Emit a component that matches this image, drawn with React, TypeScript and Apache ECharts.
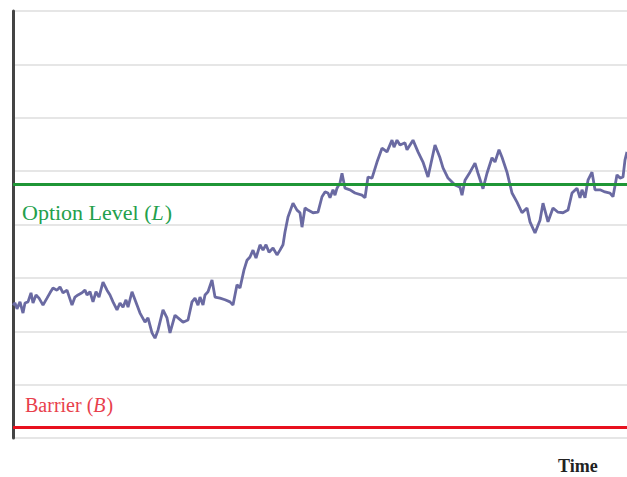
import React, { useEffect, useRef } from "react";
import * as echarts from "echarts";

// time steps (arbitrary units along the horizontal axis)
const timeSteps = [
  0, 2, 4, 7, 10, 12, 15, 18, 20, 23, 26, 30, 34, 37, 40, 44, 47, 50, 54, 59,
  62, 65, 69, 72, 74, 77, 80, 83, 86, 90, 94, 97, 100, 104, 107, 110, 113, 115, 119, 122,
  127, 132, 135, 139, 142, 145, 150, 154, 157, 162, 165, 170, 175, 179, 182, 185, 187, 190, 192, 195,
  199, 202, 207, 212, 217, 220, 224, 227, 231, 234, 237, 240, 243, 247, 250, 253, 256, 260, 264, 267,
  270, 272, 275, 280, 284, 287, 289, 292, 295, 300, 305, 309, 312, 315, 317, 320, 322, 324, 327, 329,
  332, 337, 342, 349, 352, 355, 359, 364, 369, 374, 379, 381, 384, 387, 392, 394, 397, 400, 405, 410,
  415, 422, 427, 430, 435, 442, 447, 449, 452, 457, 462, 465, 470, 474, 479, 482, 486, 489, 494, 499,
  504, 509, 514, 517, 522, 527, 530, 535, 540, 545, 550, 555, 559, 564, 567, 569, 572, 575, 579, 582,
  587, 592, 597, 600, 604, 607, 610, 612, 614,
];

// asset price path
const priceValues = [
  2.49, 2.53, 2.42, 2.55, 2.34, 2.53, 2.55, 2.72, 2.53, 2.68, 2.62, 2.49, 2.62, 2.72, 2.81, 2.77, 2.83, 2.72, 2.77, 2.49,
  2.64, 2.68, 2.72, 2.77, 2.68, 2.74, 2.55, 2.74, 2.64, 2.92, 2.77, 2.68, 2.55, 2.40, 2.53, 2.45, 2.59, 2.45, 2.74, 2.59,
  2.34, 2.17, 2.25, 1.97, 1.87, 2.02, 2.40, 2.25, 1.97, 2.30, 2.25, 2.17, 2.21, 2.55, 2.62, 2.49, 2.64, 2.49, 2.68, 2.74,
  2.96, 2.64, 2.62, 2.59, 2.55, 2.49, 2.87, 2.81, 3.15, 3.33, 3.39, 3.52, 3.37, 3.62, 3.52, 3.62, 3.48, 3.56, 3.43, 3.52,
  3.62, 3.86, 4.14, 4.40, 4.27, 4.22, 3.95, 4.31, 4.27, 4.22, 4.23, 4.52, 4.61, 4.59, 4.50, 4.65, 4.55, 4.68, 4.78, 4.96,
  4.68, 4.65, 4.59, 4.55, 4.50, 4.89, 4.87, 5.17, 5.43, 5.36, 5.58, 5.45, 5.58, 5.49, 5.53, 5.40, 5.49, 5.58, 5.36, 5.17,
  4.89, 5.49, 5.25, 5.06, 4.87, 4.74, 4.70, 4.55, 4.83, 4.98, 5.15, 4.96, 4.67, 4.96, 5.25, 5.17, 5.40, 5.26, 4.98, 4.59,
  4.42, 4.22, 4.31, 4.05, 3.84, 4.08, 4.40, 4.05, 4.31, 4.23, 4.22, 4.27, 4.59, 4.68, 4.50, 4.65, 4.50, 4.83, 4.98, 4.65,
  4.65, 4.61, 4.59, 4.52, 4.93, 4.87, 4.89, 5.21, 5.36,
];

const optionLevel = 4.76;
const barrierLevel = 0.2;

const labelOption = "Option Level (";
const labelOptionSym = "L";
const labelBarrier = "Barrier (";
const labelBarrierSym = "B";
const labelClose = ")";
const labelTime = "Time";

const SERIF = "'Liberation Serif', serif";

function measure(text: string, size: number, italic = false): number {
  const c = document.createElement("canvas").getContext("2d");
  if (!c) return text.length * size * 0.45;
  c.font = `${italic ? "italic " : ""}${size}px ${SERIF}`;
  return c.measureText(text).width;
}

function labelParts(x: number, y: number, pre: string, sym: string, size: number, color: string) {
  const w1 = measure(pre, size);
  const w2 = measure(sym, size, true);
  const base = { fontFamily: SERIF, fontSize: size, fill: color, textVerticalAlign: "top" };
  return [
    { type: "text", x, y, style: { ...base, text: pre } },
    { type: "text", x: x + w1, y, style: { ...base, text: sym, fontStyle: "italic" } },
    { type: "text", x: x + w1 + w2 + 1, y, style: { ...base, text: labelClose } },
  ];
}

export default function App() {
  const ref = useRef<HTMLDivElement>(null);
  useEffect(() => {
    if (!ref.current) return;
    const chart = echarts.init(ref.current, undefined, { renderer: "svg" });
    chart.setOption({
      animation: false,
      backgroundColor: "#ffffff",
      grid: { left: 13, right: 0, top: 11, bottom: 39, containLabel: false },
      xAxis: {
        type: "value",
        min: 0,
        max: 614,
        show: true,
        axisLine: { show: false },
        axisTick: { show: false },
        axisLabel: { show: false },
        splitLine: { show: false },
      },
      yAxis: {
        type: "value",
        min: 0,
        max: 8,
        interval: 1,
        axisLine: { show: true, lineStyle: { color: "#444444", width: 3 } },
        axisTick: { show: false },
        axisLabel: { show: false },
        splitLine: { show: true, lineStyle: { color: "#e6e6e6", width: 2 } },
      },
      series: [
        {
          type: "line",
          data: timeSteps.map((t, i) => [t, priceValues[i]]),
          showSymbol: false,
          symbol: "none",
          lineStyle: { color: "#6a6aa2", width: 2.8 },
          z: 3,
          markLine: {
            silent: true,
            symbol: "none",
            label: { show: false },
            data: [
              { yAxis: optionLevel, lineStyle: { color: "#1f9636", width: 3, type: "solid" } },
              { yAxis: barrierLevel, lineStyle: { color: "#e8101e", width: 3, type: "solid" } },
            ],
            z: 4,
          },
        },
      ],
      graphic: [
        ...labelParts(22, 201, labelOption, labelOptionSym, 22, "#23a04c"),
        ...labelParts(25, 395, labelBarrier, labelBarrierSym, 20, "#e8404c"),
        {
          type: "text",
          x: 558,
          y: 457,
          style: {
            text: labelTime,
            fontFamily: SERIF,
            fontSize: 18,
            fontWeight: "bold",
            fill: "#222222",
            textVerticalAlign: "top",
          },
        },
      ],
    });
    return () => chart.dispose();
  }, []);
  return <div ref={ref} style={{ width: 627, height: 477, position: "absolute", left: 0, top: 0 }} />;
}
